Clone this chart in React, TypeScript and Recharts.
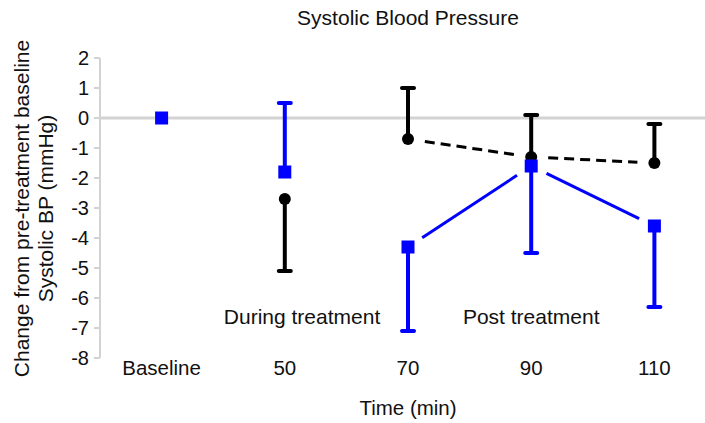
import { ScatterChart, Scatter, XAxis, YAxis, ErrorBar, ReferenceLine } from 'recharts'

// time points (category labels)
const categories = ['Baseline', '50', '70', '90', '110']

// blue squares
const blueMean = [0, -1.8, -4.3, -1.6, -3.6]
const blueErrDown = [0, 0, 2.8, 2.9, 2.7]
const blueErrUp = [0, 2.3, 0, 0, 0]
const blueJoined = [false, false, true, true, true]

// black circles
const blackMean: (number | null)[] = [null, -2.7, -0.7, -1.3, -1.5]
const blackErrDown = [0, 2.4, 0, 0, 0]
const blackErrUp = [0, 0, 1.7, 1.4, 1.3]
const blackJoined = [false, false, true, true, true]

const yTicks = [2, 1, 0, -1, -2, -3, -4, -5, -6, -7, -8]

// phase annotations
const phaseLabels = ['During treatment', 'Post treatment']
const phaseX = [1.14, 3]
const phaseY = -6.6

const BLUE = '#0000ff'
const BLACK = '#000000'
const GRID = '#d3d3d3'
const FONT = '"Liberation Sans", Arial, sans-serif'

const CHART_TOP = 58
const PLOT_H = 300

type Pt = { x: number; y: number; err: [number, number] }

const buildPoints = (
  mean: (number | null)[],
  down: number[],
  up: number[],
  joined: boolean[],
  want: boolean,
): Pt[] =>
  mean.flatMap((m, i) =>
    m == null || joined[i] !== want ? [] : [{ x: i, y: m, err: [down[i], up[i]] as [number, number] }],
  )

const buildCaps = (mean: (number | null)[], down: number[], up: number[]) =>
  mean.flatMap((m, i) => {
    if (m == null) return []
    const out: { x: number; y: number }[] = []
    if (down[i] > 0) out.push({ x: i, y: m - down[i] })
    if (up[i] > 0) out.push({ x: i, y: m + up[i] })
    return out
  })

const blueFree = buildPoints(blueMean, blueErrDown, blueErrUp, blueJoined, false)
const blueLinked = buildPoints(blueMean, blueErrDown, blueErrUp, blueJoined, true)
const blackFree = buildPoints(blackMean, blackErrDown, blackErrUp, blackJoined, false)
const blackLinked = buildPoints(blackMean, blackErrDown, blackErrUp, blackJoined, true)
const blueCaps = buildCaps(blueMean, blueErrDown, blueErrUp)
const blackCaps = buildCaps(blackMean, blackErrDown, blackErrUp)
const phases = phaseLabels.map((text, i) => ({ x: phaseX[i], y: phaseY, text }))

const square = (props: any) => (
  <rect x={props.cx - 6.5} y={props.cy - 6.5} width={13} height={13} fill={BLUE} />
)
const dot = (props: any) => <circle cx={props.cx} cy={props.cy} r={6} fill={BLACK} />
const cap = (color: string) => (props: any) => (
  <line
    x1={props.cx - 6}
    x2={props.cx + 6}
    y1={props.cy}
    y2={props.cy}
    stroke={color}
    strokeWidth={4}
    strokeLinecap="round"
  />
)
const phaseText = (props: any) => (
  <text
    x={props.cx}
    y={props.cy}
    textAnchor="middle"
    dominantBaseline="central"
    fontSize={21}
    fontFamily={FONT}
    fill="#111"
  >
    {props.payload?.text}
  </text>
)

// connecting line that stops short of the markers
const gapLine = (color: string, dash?: string) => (props: any) => {
  const pts: { x: number; y: number }[] = props.points || []
  const gap = 17
  return (
    <g>
      {pts.slice(0, -1).map((a, i) => {
        const b = pts[i + 1]
        const dx = b.x - a.x
        const dy = b.y - a.y
        const len = Math.hypot(dx, dy) || 1
        const ux = dx / len
        const uy = dy / len
        return (
          <line
            key={i}
            x1={a.x + ux * gap}
            y1={a.y + uy * gap}
            x2={b.x - ux * gap}
            y2={b.y - uy * gap}
            stroke={color}
            strokeWidth={3}
            strokeDasharray={dash}
          />
        )
      })}
    </g>
  )
}

function YLabel() {
  const cy = CHART_TOP + PLOT_H / 2 + 0.5
  return (
    <g fontFamily={FONT} fontSize={21} fill="#111">
      <text x={28.5} y={cy} transform={`rotate(-90 28.5 ${cy})`} textAnchor="middle">
        Change from pre-treatment baseline
      </text>
      <text x={53} y={cy} transform={`rotate(-90 53 ${cy})`} textAnchor="middle">
        Systolic BP (mmHg)
      </text>
    </g>
  )
}

export default function App() {
  return (
    <div
      style={{
        position: 'absolute',
        left: 0,
        top: 0,
        width: 705,
        height: 423,
        overflow: 'hidden',
        background: '#fff',
        fontFamily: FONT,
      }}
    >
      <div
        style={{
          position: 'absolute',
          top: 6,
          left: 408,
          transform: 'translateX(-50%)',
          whiteSpace: 'nowrap',
          fontSize: 21,
          color: '#111',
        }}
      >
        Systolic Blood Pressure
      </div>
      <ScatterChart width={730} height={423} margin={{ top: CHART_TOP, right: 14, bottom: 0, left: 0 }}>
        <XAxis
          type="number"
          dataKey="x"
          domain={[-0.5, 4.5]}
          ticks={[0, 1, 2, 3, 4]}
          interval={0}
          tickFormatter={(v: number) => categories[v] ?? ''}
          axisLine={false}
          tickLine={false}
          tickSize={0}
          tickMargin={2}
          height={423 - CHART_TOP - PLOT_H}
          tick={{ fontSize: 20.5, fill: '#111', fontFamily: FONT }}
          label={{
            value: 'Time (min)',
            position: 'insideBottom',
            offset: 8,
            fontSize: 20.5,
            fill: '#111',
            fontFamily: FONT,
          }}
        />
        <YAxis
          type="number"
          dataKey="y"
          domain={[-8, 2]}
          ticks={yTicks}
          interval={0}
          width={100}
          axisLine={{ stroke: GRID, strokeWidth: 2 }}
          tickLine={{ stroke: GRID, strokeWidth: 2 }}
          tickSize={6}
          tickMargin={5}
          tick={{ fontSize: 20, fill: '#111', fontFamily: FONT }}
          label={<YLabel />}
        />
        <ReferenceLine y={0} stroke={GRID} strokeWidth={3} />

        <Scatter data={blackLinked} shape={dot} line={gapLine(BLACK, '10 6')} isAnimationActive={false}>
          <ErrorBar dataKey="err" direction="y" width={0} stroke={BLACK} strokeWidth={4} isAnimationActive={false} />
        </Scatter>
        <Scatter data={blackFree} shape={dot} isAnimationActive={false}>
          <ErrorBar dataKey="err" direction="y" width={0} stroke={BLACK} strokeWidth={4} isAnimationActive={false} />
        </Scatter>
        <Scatter data={blackCaps} shape={cap(BLACK)} isAnimationActive={false} />

        <Scatter data={blueLinked} shape={square} line={gapLine(BLUE)} isAnimationActive={false}>
          <ErrorBar dataKey="err" direction="y" width={0} stroke={BLUE} strokeWidth={4} isAnimationActive={false} />
        </Scatter>
        <Scatter data={blueFree} shape={square} isAnimationActive={false}>
          <ErrorBar dataKey="err" direction="y" width={0} stroke={BLUE} strokeWidth={4} isAnimationActive={false} />
        </Scatter>
        <Scatter data={blueCaps} shape={cap(BLUE)} isAnimationActive={false} />

        <Scatter data={phases} shape={phaseText} isAnimationActive={false} />
      </ScatterChart>
    </div>
  )
}
